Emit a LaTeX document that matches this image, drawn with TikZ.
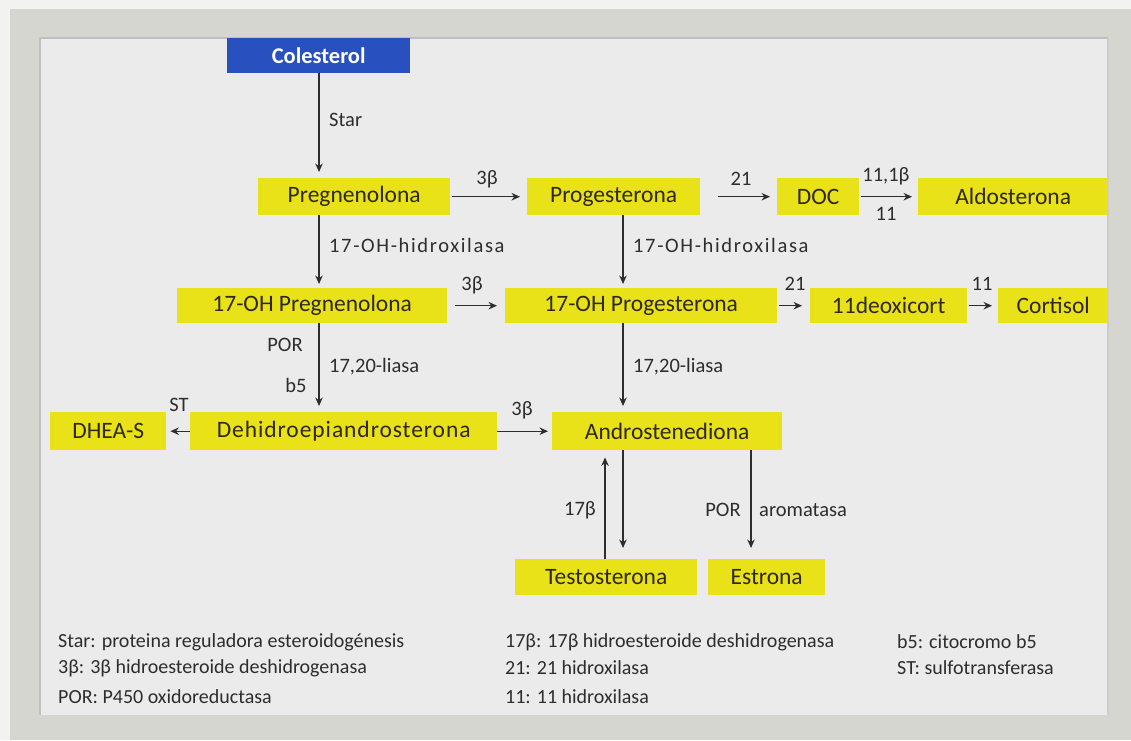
\documentclass[tikz,border=0pt]{standalone}
\usepackage{fontspec}
\setmainfont{Carlito}
\usetikzlibrary{arrows.meta}
\definecolor{ybox}{RGB}{234,226,24}
\definecolor{bbox}{RGB}{40,80,190}
\definecolor{panel}{RGB}{235,235,235}
\definecolor{framec}{RGB}{214,214,208}
\definecolor{outer}{RGB}{242,242,240}
\definecolor{txt}{RGB}{45,40,25}
\definecolor{lbl}{RGB}{45,45,45}
\tikzset{
  box/.style={fill=ybox, inner sep=0pt, text=txt, anchor=north west, minimum height=37pt,
    font=\fontsize{23.5}{23.5}\selectfont},
  bluebox/.style={fill=bbox, inner sep=0pt, text=white, anchor=north west, minimum height=35pt,
    font=\fontsize{22.5}{22.5}\selectfont\bfseries},
  arr/.style={draw=lbl, line width=1.1pt, -{Stealth[length=8.5pt,width=7.5pt]}},
  lab/.style={text=lbl, inner sep=0pt, font=\fontsize{20.5}{20.5}\selectfont},
  leg/.style={text=lbl, inner sep=0pt, anchor=west, font=\fontsize{20}{20}\selectfont},
}
\begin{document}
\begin{tikzpicture}[x=1pt,y=-1pt]
\useasboundingbox (0,0) rectangle (1131,740);
\fill[outer] (0,0) rectangle (1131,740);
\fill[framec] (10,9) rectangle (1131,740);
\fill[panel] (40,38) rectangle (1108,715);
\draw[line width=1.2pt, draw=black!25] (40,715) -- (40,38) -- (1108,38);
\draw[line width=1.2pt, draw=white!80!black] (1108,38) -- (1108,715);

% nodes
\node[bluebox, minimum width=183pt] (col) at (227,38) {Colesterol};
\node[box, minimum width=192pt] (preg) at (258,178) {Pregnenolona};
\node[box, minimum width=173pt] (prog) at (527,178) {Progesterona};
\node[box, minimum width=82pt] (doc) at (777,178) {DOC};
\node[box, minimum width=190pt] (aldo) at (918,178) {Aldosterona};
\node[box, minimum width=270pt, minimum height=35pt] (p17) at (177,288) {17-OH Pregnenolona};
\node[box, minimum width=272pt, minimum height=35pt] (dp17) at (505,288) {17-OH Progesterona};
\node[box, minimum width=157pt, minimum height=35pt] (deoxi) at (810,288) {11deoxicort};
\node[box, minimum width=110pt, minimum height=35pt] (cort) at (998,288) {Cortisol};
\node[box, minimum width=116pt, minimum height=38pt] (dheas) at (50,412) {DHEA-S};
\node[box, minimum width=307pt, minimum height=38pt] (dhea) at (190,412) {\addfontfeature{LetterSpace=4}Dehidroepiandrosterona};
\node[box, minimum width=230pt, minimum height=38pt] (andro) at (552,412) {Androstenediona};
\node[box, minimum width=182pt, minimum height=36pt] (testo) at (515,559) {Testosterona};
\node[box, minimum width=117pt, minimum height=36pt] (estr) at (708,559) {Estrona};

\coordinate (cx1) at (319,0);
\coordinate (cx2) at (623,0);
\coordinate (cx3) at (605,0);
\coordinate (cx4) at (751,0);

% vertical arrows
\draw[arr, shorten >=6pt] (col.south -| cx1) -- (preg.north -| cx1);
\draw[arr, shorten >=4pt] (preg.south -| cx1) -- (p17.north -| cx1);
\draw[arr, shorten >=6pt] (p17.south -| cx1) -- (dhea.north -| cx1);
\draw[arr, shorten >=4pt] (prog.south -| cx2) -- (dp17.north -| cx2);
\draw[arr, shorten >=6pt] (dp17.south -| cx2) -- (andro.north -| cx2);
\draw[arr, shorten >=11pt] (andro.south -| cx2) -- (testo.north -| cx2);
\draw[arr, shorten >=7pt] (testo.north -| cx3) -- (andro.south -| cx3);
\draw[arr, shorten >=11pt] (andro.south -| cx4) -- (estr.north -| cx4);

% horizontal arrows
\draw[arr, shorten <=2pt, shorten >=7pt] (preg.east) -- (prog.west);
\draw[arr, shorten <=18pt, shorten >=7pt] (prog.east) -- (doc.west);
\draw[arr, shorten <=2pt, shorten >=6pt] (doc.east) -- (aldo.west);
\draw[arr, shorten <=8pt, shorten >=8pt] (p17.east) -- (dp17.west);
\draw[arr, shorten <=2pt, shorten >=8pt] (dp17.east) -- (deoxi.west);
\draw[arr, shorten <=2pt, shorten >=6pt] (deoxi.east) -- (cort.west);
\draw[arr, shorten >=4pt] (dhea.west) -- (dheas.east);
\draw[arr, shorten >=4pt] (dhea.east) -- (andro.west);

% arrow labels
\node[lab, anchor=west] (l1) at (329,120) {Star};
\node[lab] (l2) at (487,179) {3β};
\node[lab] (l3) at (741,179) {21};
\node[lab] (l4) at (886,176) {11,1β};
\node[lab] (l5) at (886,214) {11};
\node[lab, anchor=west] (l6) at (329,245) {\addfontfeature{LetterSpace=8}17-OH-hidroxilasa};
\node[lab, anchor=west] (l7) at (633,245) {\addfontfeature{LetterSpace=8}17-OH-hidroxilasa};
\node[lab] (l8) at (472,285) {3β};
\node[lab] (l9) at (795,284) {21};
\node[lab] (l10) at (982,284) {11};
\node[lab] (l11) at (285,345) {POR};
\node[lab] (l12) at (296,385) {b5};
\node[lab, anchor=west] (l13) at (329,367) {17,20-liasa};
\node[lab, anchor=west] (l14) at (633,367) {17,20-liasa};
\node[lab] (l15) at (179,405) {ST};
\node[lab] (l16) at (522,410) {3β};
\node[lab] (l17) at (580,510) {17β};
\node[lab] (l18) at (723,510) {POR};
\node[lab, anchor=west] (l19) at (759,510) {aromatasa};

% legend
\node[leg] (g1) at (58,642) {Star: proteina reguladora esteroidogénesis};
\node[leg] (g2) at (58,668) {3β: 3β hidroesteroide deshidrogenasa};
\node[leg] (g3) at (58,697) {POR: P450 oxidoreductasa};
\node[leg] (g4) at (505,642) {17β: 17β hidroesteroide deshidrogenasa};
\node[leg] (g5) at (505,668) {21: 21 hidroxilasa};
\node[leg] (g6) at (505,697) {11: 11 hidroxilasa};
\node[leg] (g7) at (897,642) {b5: citocromo b5};
\node[leg] (g8) at (897,668) {ST: sulfotransferasa};
\end{tikzpicture}
\end{document}
